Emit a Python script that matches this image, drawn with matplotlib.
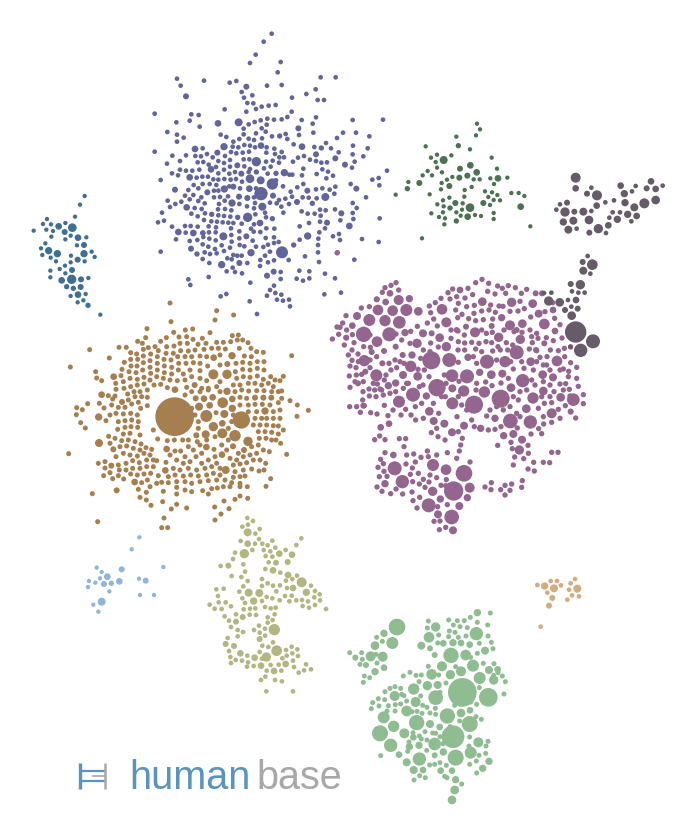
import matplotlib
matplotlib.use("Agg")
import matplotlib.pyplot as plt
from matplotlib.patches import Circle
from matplotlib.collections import PatchCollection

blue_origin = (150, 25)
blue_big = [(333,506,19),(367,477,16),(319,410,13),(300,461,12),(332,466,11),(293,577,13),(396,682,17),(222,365,10),
    (333,362,9),(403,443,10),(183,433,9),(119,457,9),(223,492,10),(246,534,10),(298,491,9),(267,515,8),(337,545,11),
    (369,512,8),(292,519,8),(110,547,9),(220,634,11),(85,621,9),(130,624,9),(158,624,7),(123,671,8),(141,687,7),
    (215,719,10),(268,714,8),(303,683,10),(330,594,9),(289,634,8),(263,577,7),(75,494,8),(135,372,9),(202,383,8),
    (262,421,8),(526,516,11),(472,497,8),(441,531,8),(498,388,8),(514,369,7),(556,400,8),(585,419,8),(619,491,8),
    (598,603,9),(473,633,10),(431,660,7),(531,593,8),(574,565,8),(351,752,8),(371,740,8),(487,535,7),(185,568,7),
    (172,502,8),(367,581,7),(108,214,8),(289,185,8),(204,295,9),(266,292,11),(445,310,8),(456,365,9),(389,333,7),
    (250,485,8),(159,624,7),(378,445,7),(274,446,8),(319,441,7)]
blue_small = [(365,26),(341,50),(317,89),(300,114),(392,111),(383,142),(81,161),(92,182),(162,167),(239,173),(259,168),
    (351,182),(395,180),(512,157),(557,157),(497,193),(469,207),(503,225),(522,225),(426,218),(275,201),(282,218),
    (307,211),(292,234),(310,235),(335,245),(356,242),(377,240),(318,252),(289,260),(224,253),(14,266),(124,268),
    (146,270),(119,287),(79,292),(149,305),(52,321),(81,329),(101,338),(81,350),(14,380),(67,392),(108,391),(51,416),
    (90,408),(425,260),(412,276),(395,283),(372,284),(352,281),(332,286),(314,291),(296,298),(350,299),(335,310),
    (281,311),(318,325),(347,320),(281,328),(212,329),(229,336),(268,342),(250,350),(296,341),(312,345),(366,334),
    (407,327),(447,330),(412,342),(431,358),(336,340),(158,370),(248,365),(265,367),(283,360),(300,362),(315,367),
    (350,367),(373,371),(395,381),(171,387),(153,394),(136,393),(188,397),(225,393),(243,381),(259,385),(278,383),
    (297,380),(349,383),(375,387),(402,397),(388,397),(205,408),(143,412),(160,411),(222,414),(240,405),(281,403),
    (298,403),(348,410),(368,407),(387,413),(429,410),(444,398),(462,393),(480,404),(176,419),(198,426),(222,434),
    (240,425),(283,424),(300,432),(342,430),(362,425),(418,449),(498,408),(514,413),(531,412),(460,431),(456,451),
    (90,434),(108,437),(127,437),(148,434),(66,445),(84,451),(32,465),(205,445),(238,446),(255,441),(296,441),(353,446),
    (378,466),(427,449),(500,447),(517,433),(534,440),(549,452),(529,460),(140,458),(157,455),(174,455),(190,463),
    (205,464),(223,462),(242,464),(258,462),(276,470),(158,477),(179,477),(199,480),(238,484),(270,490),(399,484),
    (460,477),(602,477),(115,495),(131,480),(145,490),(192,497),(205,497),(318,490),(422,500),(442,487),(498,493),
    (517,490),(539,494),(556,485),(553,506),(105,512),(130,510),(154,517),(192,517),(210,516),(234,514),(312,517),
    (426,515),(458,517),(476,518),(500,520),(387,525),(406,521),(648,517),(53,527),(76,537),(94,530),(119,523),(145,528),
    (164,535),(207,537),(224,527),(268,537),(315,534),(360,533),(380,535),(417,537),(60,546),(134,549),(155,552),
    (204,553),(225,552),(244,556),(291,544),(312,550),(394,545),(608,534),(620,549),(36,563),(124,566),(165,565),
    (205,571),(222,573),(241,575),(316,568),(345,563),(400,563),(455,559),(473,566),(494,566),(510,554),(527,556),
    (555,553),(608,564),(24,592),(42,587),(143,574),(162,585),(184,589),(201,590),(218,592),(235,593),(250,594),
    (275,596),(312,598),(348,577),(512,572),(610,582),(571,586),(66,605),(105,603),(122,603),(143,605),(176,604),
    (198,607),(243,610),(268,619),(303,611),(349,610),(373,611),(449,604),(477,594),(510,590),(525,610),(689,580),
    (107,623),(177,622),(197,622),(244,630),(268,640),(311,620),(331,621),(372,637),(508,622),(549,634),(567,627),
    (78,643),(119,648),(142,645),(160,636),(178,641),(197,646),(245,650),(269,660),(308,647),(347,639),(354,659),
    (449,644),(505,641),(570,645),(636,642),(686,651),(158,658),(175,665),(195,672),(215,661),(240,668),(283,664),
    (318,665),(340,666),(372,654),(386,651),(504,660),(32,680),(164,682),(180,687),(200,685),(222,678),(250,690),
    (275,692),(360,680),(345,692),(504,682),(561,684),(158,702),(178,714),(232,700),(245,703),(262,692),(292,714),
    (331,705),(354,712),(372,706),(416,705),(465,694),(507,711),(613,704),(248,728),(230,739),(255,741),(276,745),
    (330,723),(392,741),(448,737),(478,739),(525,746),(115,763),(176,756),(440,761),(459,767),(478,760),(392,762),
    (555,760),(121,780),(301,773),(372,782),(360,795),(376,804),(351,812),(394,809),(212,814),(229,807),(523,808),
    (573,803),(381,824),(399,827),(417,824),(420,844),(299,829),(321,867),(711,437),(686,459),(667,464),(688,481),
    (608,285),(699,284),(455,285),(498,277),(488,296),(490,323),(579,323),(618,323),(561,339),(658,334),(609,362),
    (653,370),(608,388),(640,394),(614,410),(606,428),(566,382),(543,370),(528,354),(493,366)]

purple_origin = (330, 250)
purple_big = [(304,331,26),(321,413,25),(432,464,26),(512,446,26),(371,723,28),(402,670,24),(101,253,22),(178,253,20),
    (358,330,20),(471,335,20),(560,307,20),(249,434,20),(411,379,20),(366,377,18),(578,392,19),(541,513,21),(601,516,19),
    (365,801,21),(296,766,20),(194,655,20),(217,695,19),(309,645,17),(348,659,15),(367,460,17),(207,455,17),(139,376,17),
    (103,332,16),(242,349,16),(118,210,17),(165,212,16),(208,217,18),(144,180,15),(188,182,15),(229,180,17),(206,150,14),
    (141,275,15),(265,184,12),(81,198,11),(336,178,15),(349,217,14),(435,247,14),(643,222,15),(540,226,14),(571,268,13),
    (506,262,13),(545,157,13),(457,155,12),(608,161,12),(626,191,11),(515,203,10),(577,221,12),(349,290,13),(261,280,13),
    (329,263,12),(279,250,11),(484,374,12),(517,371,11),(525,335,16),(602,335,12),(638,374,12),(681,333,15),(669,382,11),
    (730,449,18),(665,490,14),(692,442,12),(640,423,12),(609,444,16),(589,476,12),(543,413,12),(463,426,16),(401,423,16),
    (367,415,11),(289,438,10),(263,379,12),(219,375,11),(175,407,10),(197,399,10),(298,484,12),(343,521,11),(311,513,11),
    (402,527,11),(366,547,11),(452,535,10),(495,505,10),(550,552,11),(576,569,11),(568,600,13),(521,557,10),(308,724,13),
    (419,713,14),(412,743,10),(388,768,11),(331,747,10),(324,793,11),(369,841,11),(190,615,9),(165,701,10),(177,521,9),
    (152,532,9),(449,367,10),(414,322,10),(246,315,10),(225,248,10),(180,130,9),(67,227,9),(49,263,8),(305,250,8),
    (390,120,9),(636,130,8),(669,180,9),(617,130,8),(675,243,9),(643,280,8),(618,300,8),(560,240,8),(485,228,8),
    (408,230,8),(380,240,8),(140,148,8),(167,156,9),(238,146,10),(125,306,8),(162,303,8),(106,365,8),(84,400,8),
    (157,340,8),(218,315,8),(197,290,8),(100,467,8),(760,434,7),(722,485,8)]
purple_small = [(198,98),(183,106),(165,113),(206,120),(157,127),(141,148),(118,170),(94,174),(48,197),(38,219),(21,231),
    (26,253),(7,267),(48,263),(43,285),(67,254),(72,278),(101,290),(121,292),(84,312),(66,300),(55,315),(66,331),(60,348),
    (78,353),(120,353),(95,373),(79,375),(58,378),(60,412),(99,425),(117,417),(134,420),(150,417),(118,438),(138,440),
    (160,435),(98,450),(80,470),(59,470),(103,467),(91,487),(122,488),(141,492),(174,497),(163,466),(189,480),(134,569),
    (149,558),(165,569),(208,566),(227,566),(222,590),(165,608),(230,615),(251,612),(292,603),(152,628),(160,641),(144,652),
    (162,664),(148,680),(171,679),(141,711),(156,724),(182,731),(198,717),(218,732),(246,726),(249,752),(269,742),(261,774),
    (323,770),(352,764),(312,814),(330,813),(347,832),(328,839),(295,620),(320,615),(352,608),(380,625),(388,603),(420,636),
    (256,636),(273,622),(228,642),(247,654),(265,670),(241,673),(280,688),(300,675),(320,683),(349,689),(297,696),(268,702),
    (285,712),(248,695),(333,706),(347,707),(465,711),(484,698),(483,719),(512,719),(525,706),(545,702),(540,721),(525,735),
    (577,692),(575,712),(665,607),(684,607),(640,637),(659,638),(611,637),(594,657),(613,663),(550,645),(554,621),(581,626),
    (595,610),(547,596),(503,586),(543,577),(594,586),(562,534),(603,552),(635,551),(626,536),(641,522),(665,517),(690,505),
    (737,504),(722,484),(760,461),(706,467),(718,418),(745,409),(740,385),(707,401),(716,364),(740,352),(722,338),(704,320),
    (722,291),(703,295),(685,302),(661,300),(651,320),(630,322),(620,302),(598,297),(607,278),(624,265),(649,263),(670,272),
    (696,264),(690,224),(674,205),(645,185),(668,158),(654,153),(590,118),(574,130),(556,113),(535,107),(517,115),(503,108),
    (476,100),(456,88),(437,98),(414,115),(391,120),(368,117),(354,128),(380,140),(405,144),(428,134),(473,124),(495,132),
    (527,130),(570,154),(583,176),(564,183),(540,184),(519,169),(507,168),(482,165),(433,166),(410,170),(385,160),(360,147),
    (333,145),(316,158),(298,168),(302,188),(377,180),(396,193),(432,190),(455,183),(477,180),(496,187),(488,207),(460,209),
    (437,212),(416,206),(383,203),(311,207),(292,219),(322,228),(262,229),(242,244),(363,240),(384,243),(403,255),(455,240),
    (469,250),(487,247),(522,240),(602,201),(600,240),(620,250),(576,247),(605,260),(552,245),(529,278),(548,285),(504,290),
    (485,278),(468,275),(447,280),(425,277),(404,279),(385,275),(363,265),(302,279),(280,300),(325,291),(384,300),(404,300),
    (437,297),(455,305),(488,303),(511,300),(533,300),(430,320),(385,337),(440,340),(500,330),(542,335),(575,335),(620,335),
    (650,345),(610,360),(582,355),(550,357),(535,385),(513,399),(486,407),(467,396),(440,400),(438,420),(387,394),(343,375),
    (297,380),(283,360),(264,358),(222,340),(200,353),(177,340),(183,360),(168,375),(163,390),(142,402),(197,425),(220,415),
    (235,400),(279,405),(346,440),(348,400),(275,460),(256,470),(227,478),(213,495),(243,495),(257,510),(280,505),(326,490),
    (320,535),(304,548),(324,560),(345,570),(381,500),(385,545),(397,565),(392,585),(425,510),(433,530),(470,498),(475,540),
    (495,538),(513,530),(540,470),(565,450),(570,425),(615,405),(660,405),(690,402),(560,490),(625,475),(643,460),(665,458),
    (640,500),(685,478),(700,357),(672,425),(640,395),(605,390),(720,438),(22,8),(30,232),(88,245),(50,240),(120,255),
    (240,280),(215,270),(198,252),(300,305),(272,325),(210,335),(195,330),(140,320),(120,330),(85,335),(75,395),(100,395),
    (130,400),(155,420),(180,430),(230,400),(268,410),(310,460),(335,440),(385,440),(410,480),(395,465),(480,480),(520,480),
    (500,470),(570,500),(530,445),(550,440),(590,420),(635,440),(700,420),(660,440),(715,380),(690,360),(660,360),(640,345)]

brown_origin = (60, 290)
brown_big = [(344,380,57),(544,390,25),(439,378,17),(460,410,13),(487,430,14),(525,437,16),(437,433,11),(488,338,15),
    (417,350,11),(493,372,11),(517,355,10),(564,454,13),(460,253,14),(501,253,13),(516,197,10),(461,203,9),(502,222,8),
    (345,299,9),(404,285,8),(501,304,10),(615,363,10),(585,323,8),(634,323,8),(610,323,8),(432,326,9),(458,322,9),
    (517,327,9),(407,325,8),(449,346,9),(487,400,9),(409,436,8),(439,471,9),(486,494,9),(497,540,11),(320,477,9),
    (316,541,9),(224,576,9),(170,601,8),(154,527,8),(160,478,8),(117,459,11),(116,381,10),(125,314,9),(161,260,9),
    (186,336,8),(552,480,8),(519,469,8)]
brown_small = [(330,39),(470,62),(521,75),(333,95),(465,90),(261,116),(341,127),(376,120),(398,117),(450,128),(517,137),(535,135),
    (257,143),(357,141),(380,140),(399,148),(427,145),(319,143),(302,154),(233,154),(360,160),(247,160),(89,179),(177,172),
    (199,172),(148,204),(31,231),(212,188),(230,192),(250,178),(265,173),(285,170),(320,170),(342,168),(382,160),(414,163),
    (438,160),(470,157),(490,157),(512,155),(532,150),(548,150),(564,158),(695,197),(573,175),(590,185),(610,187),(475,175),
    (496,177),(455,175),(432,178),(405,180),(385,183),(362,182),(340,190),(318,190),(295,182),(272,192),(250,198),(233,208),
    (212,208),(193,217),(213,228),(231,228),(250,218),(270,212),(292,200),(312,208),(333,210),(353,200),(375,200),(395,200),
    (420,198),(440,200),(480,195),(538,175),(553,198),(574,200),(592,215),(612,215),(528,220),(548,217),(570,220),(592,235),
    (480,225),(443,228),(420,220),(400,218),(378,220),(356,220),(335,232),(313,228),(292,220),(270,232),(248,240),(228,248),
    (207,245),(186,238),(107,245),(110,264),(125,272),(183,257),(167,280),(190,275),(210,265),(232,268),(252,262),(272,250),
    (292,240),(313,248),(335,252),(355,240),(390,240),(370,252),(420,242),(526,245),(548,238),(570,240),(612,240),(632,260),
    (670,259),(645,270),(660,272),(530,265),(550,260),(570,262),(592,258),(610,268),(625,280),(640,290),(480,275),(440,272),
    (420,265),(395,260),(375,270),(352,272),(330,270),(310,265),(290,260),(270,270),(252,282),(232,285),(212,290),(192,295),
    (168,298),(282,285),(302,283),(322,293),(380,292),(425,295),(445,295),(470,290),(520,285),(540,285),(565,280),(585,280),
    (605,285),(165,318),(145,317),(203,312),(222,305),(240,305),(262,300),(375,315),(395,305),(420,305),(445,300),(480,305),
    (525,305),(545,300),(566,303),(590,302),(612,302),(635,305),(655,305),(665,303),(118,340),(132,354),(158,327),(205,330),
    (225,320),(245,320),(262,322),(690,332),(712,345),(665,325),(655,338),(630,345),(607,343),(585,343),(565,345),(540,322),
    (560,325),(83,341),(50,353),(67,359),(155,345),(175,352),(195,352),(215,342),(235,337),(262,347),(242,355),(405,375),
    (540,345),(590,365),(640,365),(660,360),(565,365),(49,374),(150,375),(168,370),(190,372),(212,370),(232,375),(395,355),
    (468,368),(520,375),(640,385),(660,385),(711,379),(745,361),(62,398),(138,392),(175,395),(195,392),(215,390),(235,395),
    (415,395),(515,395),(585,385),(605,385),(620,385),(76,414),(173,418),(195,412),(213,410),(233,412),(415,415),(505,415),
    (580,405),(600,405),(620,405),(640,407),(655,408),(146,439),(280,420),(190,432),(210,430),(240,435),(385,450),(368,450),
    (343,450),(293,447),(465,440),(440,450),(505,450),(595,425),(615,425),(635,427),(655,432),(670,420),(165,445),(185,452),
    (205,450),(225,455),(243,462),(322,452),(412,455),(420,465),(485,465),(598,445),(618,445),(635,450),(648,450),(662,460),
    (26,491),(150,460),(180,470),(200,468),(220,475),(240,480),(258,473),(275,478),(345,483),(362,483),(385,470),(400,480),
    (425,490),(462,478),(500,480),(535,490),(575,470),(595,465),(610,480),(628,485),(680,493),(168,500),(190,490),(210,495),
    (232,498),(252,490),(270,495),(280,510),(330,495),(375,500),(408,500),(445,510),(465,500),(510,505),(530,510),(550,500),
    (570,495),(590,490),(115,520),(135,515),(135,534),(175,525),(198,520),(218,512),(238,518),(260,510),(290,512),(318,517),
    (350,510),(370,520),(390,515),(425,520),(470,520),(520,525),(540,522),(560,518),(580,510),(600,510),(617,520),(150,548),
    (131,557),(178,540),(198,540),(218,535),(240,535),(260,530),(280,530),(340,535),(360,540),(385,535),(410,540),(435,535),
    (455,530),(480,535),(525,545),(550,540),(575,537),(597,543),(612,540),(158,566),(175,557),(191,567),(212,552),(232,555),
    (252,552),(272,550),(295,557),(325,560),(345,555),(370,558),(392,555),(415,558),(440,555),(460,550),(480,555),(520,562),
    (540,560),(555,558),(632,566),(245,578),(262,570),(290,580),(305,577),(325,578),(350,575),(375,575),(395,580),(420,575),
    (445,572),(470,570),(495,570),(515,578),(540,580),(235,598),(270,590),(350,592),(375,600),(395,605),(310,604),(428,602),
    (445,612),(455,596),(472,594),(490,590),(510,590),(540,590),(562,590),(618,589),(97,611),(259,607),(240,622),(350,612),
    (259,630),(273,646),(308,635),(350,643),(334,657),(380,654),(492,633),(525,628),(540,618),(563,625),(464,651),(507,656),
    (483,672),(465,690),(113,695),(312,684),(305,713),(323,713)]

green_origin = (340, 600)
green_big = [(367,277,42),(339,410,33),(445,292,27),(171,81,24),(120,400,23),(347,473,23),(409,101,19),(333,166,22),
    (322,348,22),(389,372,23),(152,436,19),(238,477,19),(230,368,22),(287,293,21),(131,352,17),(161,379,16),(200,333,15),
    (284,432,18),(157,129,17),(267,112,15),(287,81,13),(392,458,17),(419,234,17),(399,197,17),(377,165,15),(306,199,14),
    (275,223,15),(221,267,16),(164,288,14),(227,306,14),(193,400,14),(270,372,11),(363,214,14),(331,224,13),(461,240,13),
    (262,257,13),(293,255,11),(363,339,12),(435,152,11),(415,427,14),(92,169,14),(128,170,14),(105,137,12),(132,100,10),
    (244,137,11),(105,215,10),(78,195,8),(412,38,10),(428,505,10),(447,484,10),(336,600,12),(344,570,12),(347,539,10),
    (336,512,9),(302,512,9),(221,510,11),(249,510,9),(200,487,11),(177,464,9),(208,440,10),(237,436,10),(310,456,10),
    (284,466,8),(220,412,9),(299,381,9),(390,331,9),(447,210,11),(473,208,9),(339,128,10),(363,129,9),(389,134,9),
    (310,130,9),(270,145,8),(284,165,8),(132,203,9),(46,173,8)]
green_small = [(29,158),(65,158),(67,178),(60,193),(73,228),(70,247),(89,233),(111,189),(108,163),(110,112),(127,124),
    (265,63),(262,84),(326,60),(352,62),(373,62),(391,52),(412,67),(451,39),(443,75),(340,75),(360,80),(382,83),(328,93),
    (345,97),(355,112),(378,108),(326,110),(296,105),(444,108),(454,127),(418,130),(293,129),(459,146),(412,160),(430,190),
    (462,191),(392,172),(347,200),(244,225),(228,226),(210,217),(190,228),(237,245),(296,225),(318,249),(300,277),(242,288),
    (185,283),(150,265),(165,260),(135,275),(182,265),(115,296),(134,299),(98,308),(117,318),(94,326),(145,317),(166,314),
    (182,312),(165,333),(141,333),(200,303),(248,316),(261,322),(270,339),(246,340),(231,334),(286,325),(287,343),(344,316),
    (410,313),(392,306),(408,350),(424,358),(418,263),(474,218),(487,228),(496,245),(492,282),(122,467),(203,454),(207,426),
    (238,408),(255,395),(278,399),(219,398),(300,410),(261,420),(244,417),(287,400),(260,451),(309,431),(284,493),(269,495),
    (300,488),(319,496),(321,533),(314,529),(365,552),(239,527),(222,540),(256,533),(389,411),(387,438),(444,424),(438,438),
    (437,460),(417,466),(409,483),(389,493),(410,519),(461,226),(330,380),(359,363),(359,312),(265,199),(192,287),(216,335)]

olive_origin = (200, 510)
olive_big = [(223,359,16),(230,422,15),(199,441,13),(133,131,13),(143,67,11),(143,101,9),(305,217,14),(319,247,10),
    (146,248,11),(178,249,11),(161,273,10),(276,134,9),(238,131,9),(264,195,9),(279,234,9),(219,181,9),(228,158,8),
    (263,156,8),(85,167,8),(108,335,8),(128,321,8),(121,430,9),(164,443,9),(183,467,9),(222,483,9),(257,462,9),
    (102,408,8),(77,402,8),(179,387,8)]
olive_small = [(142,24),(159,33),(127,50),(144,44),(179,57),(166,71),(122,93),(177,87),(187,101),(165,101),(203,106),
    (217,92),(226,113),(191,120),(197,138),(217,140),(211,124),(257,120),(304,85),(289,105),(157,120),(105,128),(99,147),
    (62,168),(130,163),(135,185),(206,157),(196,177),(241,188),(95,198),(124,201),(143,213),(130,229),(118,245),(49,238),
    (71,236),(54,258),(56,277),(77,277),(29,284),(44,296),(65,297),(93,289),(127,265),(135,279),(131,298),(150,296),(166,295),
    (149,314),(168,315),(74,319),(87,332),(108,313),(93,351),(113,360),(129,366),(113,379),(83,384),(186,207),(203,220),
    (186,228),(219,227),(240,226),(229,244),(200,261),(217,265),(239,271),(186,273),(195,291),(212,295),(227,293),(203,322),
    (224,313),(218,330),(203,338),(195,356),(177,347),(162,360),(179,368),(195,377),(187,407),(205,411),(219,397),(258,212),
    (261,234),(277,207),(291,197),(333,227),(345,243),(359,253),(343,262),(275,257),(255,258),(268,274),(289,271),(306,270),
    (324,274),(360,271),(345,285),(308,288),(327,293),(378,297),(247,445),(258,420),(275,410),(292,418),(277,430),(294,438),
    (260,437),(279,452),(282,471),(236,464),(212,465),(244,482),(200,482),(196,500),(183,510),(225,510),(246,514),(199,544),
    (279,544),(318,463),(333,478),(312,481),(296,488),(161,468),(141,470),(144,457),(126,452),(107,450),(91,441),(87,423),
    (93,459),(142,437),(179,426),(186,446)]

teal_origin = (25, 185)
teal_big = [(142,128,12),(140,283,13),(71,197,10),(97,206,10),(177,206,10),(159,158,9),(101,124,9),(119,141,8),
    (158,224,8),(177,180,8),(159,329,9),(110,286,9),(141,255,8),(168,283,8),(167,306,8),(145,310,7),(189,361,7),(125,305,7)]
teal_small = [(179,33),(165,59),(150,95),(66,102),(54,117),(78,118),(121,114),(26,137),(64,134),(84,138),(79,155),(121,163),
    (137,152),(184,157),(61,175),(156,181),(48,190),(52,210),(200,200),(209,216),(77,218),(93,229),(138,212),(137,232),
    (179,229),(120,242),(104,252),(76,257),(121,265),(76,277),(190,279),(137,333),(182,327),(158,352),(175,346),(226,389)]

darkgreen_origin = (390, 115)
darkgreen_big = [(161,135,11),(241,151,9),(260,172,9),(210,161,8),(232,182,8),(208,188,8),(178,213,8),(88,204,8),(324,190,9),
    (240,278,12),(233,305,9),(196,264,8),(180,279,7),(280,264,8),(392,275,9),(199,318,7),(52,221,7),(205,92,7)]
darkgreen_small = [(261,26),(270,43),(258,61),(199,65),(107,94),(240,103),(184,121),(123,128),(141,119),(137,141),(305,128),
    (141,158),(321,161),(156,172),(113,168),(98,181),(126,181),(187,186),(171,194),(251,193),(269,193),(301,190),(352,188),
    (55,201),(155,204),(312,207),(245,216),(153,223),(224,225),(285,229),(306,232),(119,238),(17,239),(322,240),(364,234),
    (386,234),(403,243),(223,245),(178,248),(295,246),(311,255),(330,256),(159,256),(142,268),(218,265),(161,274),(300,270),
    (199,292),(216,284),(159,292),(124,295),(311,294),(212,302),(255,300),(273,303),(147,306),(165,310),(311,312),(163,328),
    (421,334),(96,370)]

dark_origin = (545, 165)
dark_big = [(92,38,14),(156,91,14),(60,141,13),(298,115,14),(160,191,13),(132,165,12),(85,167,11),(70,194,11),(115,140,11),
    (55,171,10),(268,127,11),(332,105,12),(240,113,10),(217,163,10),(248,148,10),(190,181,9),(238,86,10),(227,62,9),
    (92,70,9),(155,122,9),(318,49,9),(332,72,9),(275,153,9),(88,140,8),(126,86,8),(133,203,8),(66,113,8),(305,70,8)]
dark_small = [(139,68),(45,118),(34,134),(139,138),(181,112),(207,106),(203,142),(225,142),(193,158),(259,169),(261,79),
    (272,63),(353,62),(95,191),(183,204)]
# the dark tail that grows out of the purple cluster, crop origin (530, 250)
tail_origin = (530, 250)
tail_big = [(137,246,31),(189,274,20),(152,301,19),(187,44,15),(151,104,13),(160,62,11),(89,157,12),(56,153,13),(125,197,12),
    (138,150,9),(158,36,8),(122,102,8),(105,180,8),(143,176,8)]
tail_small = [(173,18),(181,71),(126,124),(145,128),(164,128),(114,150),(124,170),(42,129),(64,128),(121,290)]

sky_origin = (80, 530)
sky_big = [(65,215,11),(118,154,9),(125,118,8),(82,140,9),(72,162,8),(197,152,8),(94,160,7)]
sky_small = [(178,22),(155,58),(50,113),(65,126),(250,111),(60,145),(177,146),(27,153),(46,158),(24,171),(88,184),(180,195),
    (222,195),(40,224),(55,245)]

tan_origin = (525, 570)
tan_big = [(157,56,11),(87,55,11),(59,48,10),(82,84,8),(72,107,8)]
tan_small = [(37,45),(77,33),(96,33),(108,46),(67,68),(137,40),(150,27),(132,59),(141,76),(127,89),(162,79),(47,170)]

logo_left = "human"
logo_right = "base"

clusters = [
    (blue_origin, blue_big, blue_small, 7, "#62659a"),
    (purple_origin, purple_big, purple_small, 8, "#93658f"),
    (brown_origin, brown_big, brown_small, 7.5, "#a67f50"),
    (green_origin, green_big, green_small, 7.5, "#8fbc91"),
    (olive_origin, olive_big, olive_small, 7, "#b4b681"),
    (teal_origin, teal_big, teal_small, 6.5, "#3f7094"),
    (darkgreen_origin, darkgreen_big, darkgreen_small, 6.5, "#4c7153"),
    (dark_origin, dark_big, dark_small, 7, "#665b69"),
    (tail_origin, tail_big, tail_small, 7, "#665b69"),
    (sky_origin, sky_big, sky_small, 6.5, "#8fb5da"),
    (tan_origin, tan_big, tan_small, 7, "#d5ab80"),
]

fig = plt.figure(figsize=(6.96, 8.36), dpi=100)
ax = fig.add_axes([0, 0, 1, 1])
ax.set_xlim(0, 696)
ax.set_ylim(836, 0)
ax.set_aspect("equal")
ax.set_axis_off()

for origin, big, small, small_r, color in clusters:
    patches = []
    for x, y, r in big:
        patches.append(Circle((origin[0] + x / 3, origin[1] + y / 3), (r + 1) / 3))
    for x, y in small:
        patches.append(Circle((origin[0] + x / 3, origin[1] + y / 3), small_r / 3))
    ax.add_collection(PatchCollection(patches, facecolor=color, edgecolor="none"))

# logo
ax.plot([80, 80], [763, 789], color="#5b93bf", lw=2.4, solid_capstyle="butt")
ax.plot([80, 105], [771, 771], color="#5b93bf", lw=1.6, solid_capstyle="butt")
ax.plot([80, 105], [781, 781], color="#5b93bf", lw=1.6, solid_capstyle="butt")
ax.plot([105, 105], [763, 789], color="#a8a8a8", lw=1.8, solid_capstyle="butt")
ax.plot([92, 105], [776, 776], color="#a8a8a8", lw=1.2, solid_capstyle="butt")
ax.text(129, 789, logo_left, color="#5b93bf", fontsize=28.5, family="Liberation Sans", va="baseline", ha="left")
ax.text(256, 789, logo_right, color="#a8a8a8", fontsize=28.5, family="Liberation Sans", va="baseline", ha="left")

fig.savefig("out.png", dpi=100)
